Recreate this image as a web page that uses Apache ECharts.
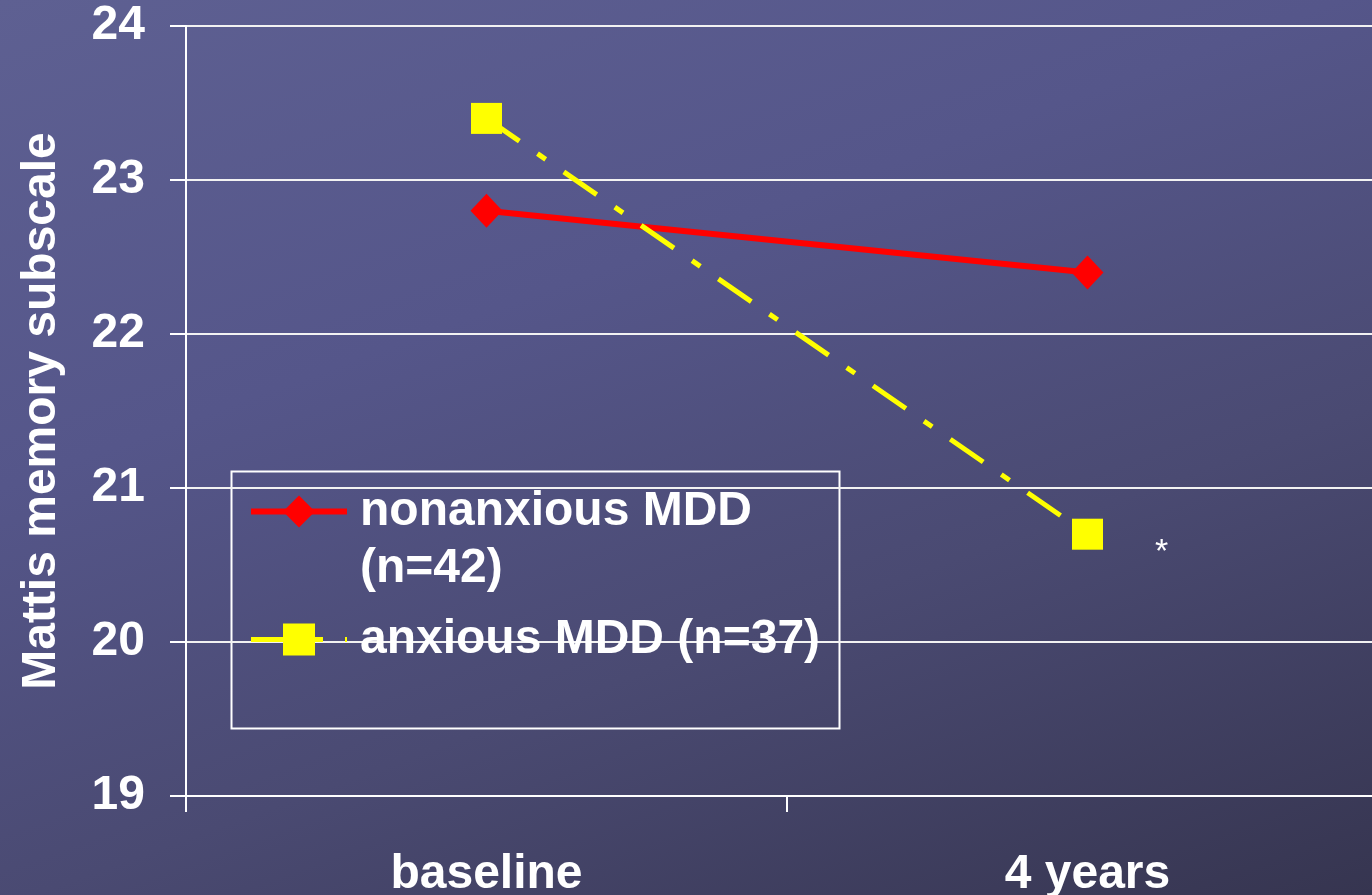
<!DOCTYPE html>
<html>
<head>
<meta charset="utf-8">
<title>Mattis memory subscale</title>
<script src="https://cdn.jsdelivr.net/npm/echarts@6/dist/echarts.min.js"></script>
<style>
  html, body { margin: 0; padding: 0; }
  #chart {
    width: 1372px;
    height: 895px;
    background: linear-gradient(160deg, #5e6092 0%, #55568a 35%, #4a4a72 65%, #363550 100%);
  }
</style>
</head>
<body>
<div id="chart"></div>
<script>
const categories = ['baseline', '4 years']
const yTicks = [19, 20, 21, 22, 23, 24]
const nonanxious = [22.8, 22.4]
const anxious = [23.4, 20.7]
const seriesNames = ['nonanxious MDD\n(n=42)', 'anxious MDD (n=37)']
const significance = ['', '*']

const font = '"Liberation Sans", Arial, sans-serif'
const chart = echarts.init(document.getElementById('chart'))

const option = {
  backgroundColor: 'transparent',
  animation: false,
  textStyle: { fontFamily: font },
  grid: { left: 186, top: 26, width: 1202, height: 770, outerBoundsMode: 'none' },
  legend: {
    orient: 'vertical',
    left: 248,
    top: 426,
    padding: 0,
    itemGap: 14,
    itemWidth: 96,
    itemHeight: 40,
    // multi-line names keep the icon level with their first line
    formatter: name => name.indexOf('\n') >= 0 ? '\n' + name : name,
    textStyle: {
      color: '#fff',
      fontSize: 48,
      fontWeight: 'bold',
      fontFamily: font,
      lineHeight: 57,
      padding: [0, 0, 0, 8]
    },
    data: [
      { name: seriesNames[0], lineStyle: { width: 6 } },
      { name: seriesNames[1], lineStyle: { width: 5 } }
    ]
  },
  graphic: [{
    type: 'rect',
    left: 229,
    top: 469,
    shape: { width: 608, height: 257 },
    style: { fill: 'none', stroke: '#fff', lineWidth: 2 },
    silent: true
  }],
  xAxis: {
    type: 'category',
    data: categories,
    axisLine: { lineStyle: { color: '#fff', width: 2 } },
    axisTick: { show: true, interval: 0, length: 16, lineStyle: { color: '#fff', width: 2 } },
    axisLabel: { color: '#fff', fontSize: 48, fontWeight: 'bold', margin: 55 }
  },
  yAxis: {
    type: 'value',
    min: yTicks[0],
    max: yTicks[yTicks.length - 1],
    interval: 1,
    name: 'Mattis memory subscale',
    nameLocation: 'middle',
    nameRotate: 90,
    nameGap: 120,
    nameTextStyle: { color: '#fff', fontSize: 48, fontWeight: 'bold' },
    axisLine: { show: true, lineStyle: { color: '#fff', width: 2 } },
    axisTick: { show: true, length: 16, lineStyle: { color: '#fff', width: 2 } },
    axisLabel: { color: '#fff', fontSize: 48, fontWeight: 'bold', margin: 41 },
    splitLine: { lineStyle: { color: '#f2f2f2', width: 2 } }
  },
  series: [
    {
      name: seriesNames[0],
      type: 'line',
      data: nonanxious,
      symbol: 'diamond',
      symbolSize: [32, 34],
      itemStyle: { color: '#ff0000' },
      lineStyle: { color: '#ff0000', width: 6 },
      z: 3
    },
    {
      name: seriesNames[1],
      type: 'line',
      data: anxious.map((v, i) => significance[i]
        ? { value: v, label: { show: true, formatter: significance[i] } }
        : v),
      symbol: 'rect',
      symbolSize: 31,
      itemStyle: { color: '#ffff00' },
      lineStyle: { color: '#ffff00', width: 5, type: [40, 22, 10, 22] },
      label: {
        show: false,
        position: 'inside',
        offset: [74, 18],
        color: '#fff',
        fontSize: 34,
        fontWeight: 'normal'
      },
      z: 4
    }
  ]
}

chart.setOption(option)
window.addEventListener('resize', () => chart.resize())
</script>
</body>
</html>
